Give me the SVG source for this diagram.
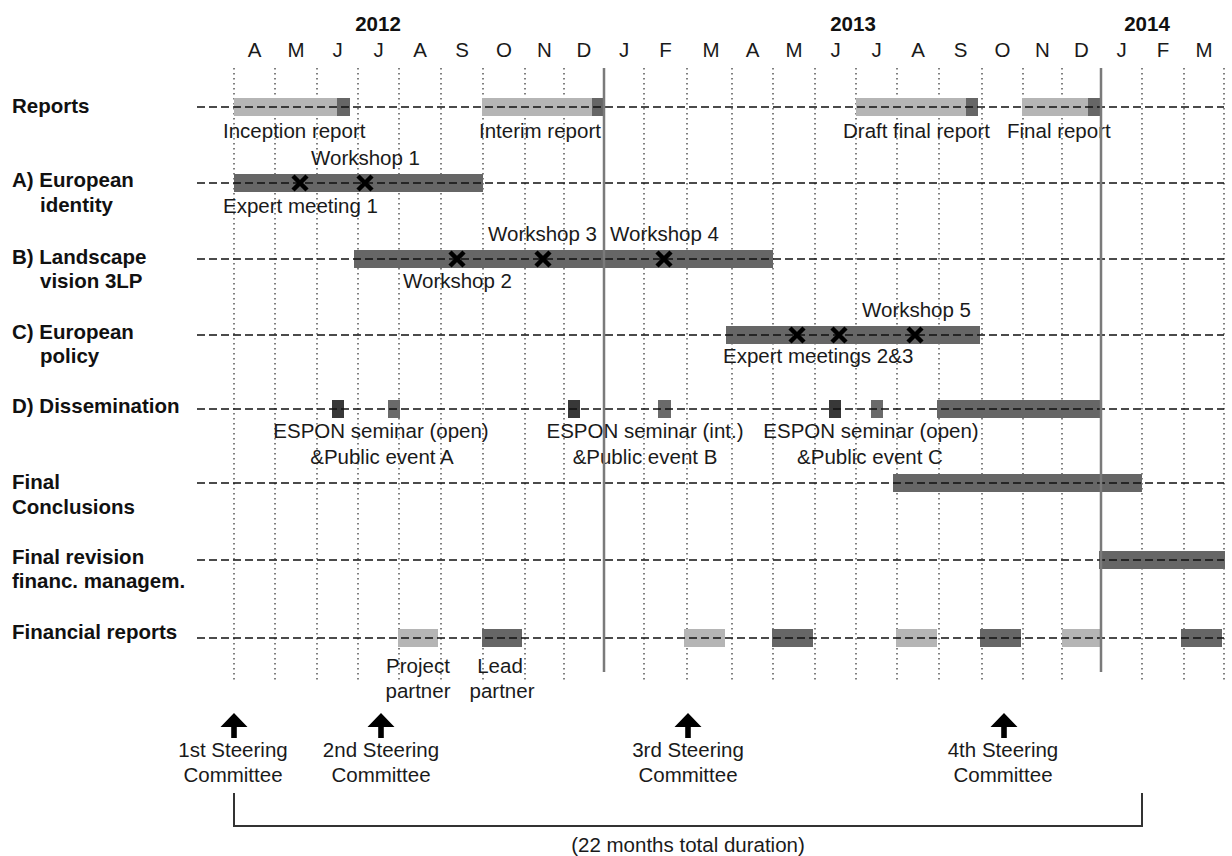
<svg xmlns="http://www.w3.org/2000/svg" width="1232" height="856" viewBox="0 0 1232 856">
<style>
text{font-family:"Liberation Sans",Arial,sans-serif;font-size:20.5px;fill:#1a1a1a}
.b{font-weight:bold;fill:#111}
.c{text-anchor:middle}
.dot{stroke:#555;stroke-width:1.5;stroke-dasharray:1.5 3.5;fill:none}
.sol{stroke:#7a7a7a;stroke-width:2.5;fill:none}
.dash{stroke:#111;stroke-width:1.6;stroke-dasharray:8 4;fill:none}
.lt{fill:#b5b5b5}
.dk{fill:#666}
.vd{fill:#383838}
.md{fill:#6a6a6a}
</style>
<defs>
<path id="xm" d="M-7,-7 L7,7 M7,-7 L-7,7" stroke="#000" stroke-width="4.5" fill="none"/>
<path id="arr" d="M0,0 L13.5,14 L2.8,14 L2.8,25 L-2.8,25 L-2.8,14 L-13.5,14 Z" fill="#000"/>
</defs>
<rect width="1232" height="856" fill="#fff"/>
<g id="timeline-header">
<text class="b c" x="378" y="31">2012</text>
<text class="b c" x="853" y="31">2013</text>
<text class="b c" x="1147" y="31">2014</text>
<g class="c">
<text class="c" x="254.5" y="57">A</text><text class="c" x="296" y="57">M</text><text class="c" x="337.5" y="57">J</text><text class="c" x="378.5" y="57">J</text><text class="c" x="420" y="57">A</text><text class="c" x="462" y="57">S</text><text class="c" x="504" y="57">O</text><text class="c" x="544.5" y="57">N</text><text class="c" x="584" y="57">D</text><text class="c" x="624" y="57">J</text><text class="c" x="665.5" y="57">F</text><text class="c" x="711" y="57">M</text><text class="c" x="752.5" y="57">A</text><text class="c" x="794" y="57">M</text><text class="c" x="835.5" y="57">J</text><text class="c" x="876.5" y="57">J</text><text class="c" x="918" y="57">A</text><text class="c" x="960.5" y="57">S</text><text class="c" x="1002.5" y="57">O</text><text class="c" x="1042.5" y="57">N</text><text class="c" x="1081.5" y="57">D</text><text class="c" x="1121.5" y="57">J</text><text class="c" x="1163" y="57">F</text><text class="c" x="1204" y="57">M</text>
</g>
</g>
<g id="grid">
<path class="dot" d="M234,68V682M275,68V682M317,68V682M358,68V682M399,68V682M441,68V682M483,68V682M525,68V682M564,68V682M644,68V682M687,68V682M732,68V682M773,68V682M815,68V682M856,68V682M897,68V682M939,68V682M982,68V682M1023,68V682M1062,68V682M1142,68V682M1184,68V682M1224,68V682"/>
</g>
<g id="row-reports">
<text class="b" x="12" y="113">Reports</text>
<rect class="lt" x="234" y="98" width="103" height="18"/><rect class="dk" x="337" y="98" width="13" height="18"/>
<rect class="lt" x="482" y="98" width="110" height="18"/><rect class="dk" x="592" y="98" width="12" height="18"/>
<rect class="lt" x="856" y="98" width="110" height="18"/><rect class="dk" x="966" y="98" width="12" height="18"/>
<rect class="lt" x="1022" y="98" width="66" height="18"/><rect class="dk" x="1088" y="98" width="14" height="18"/>
<text x="223" y="138">Inception report</text>
<text x="479" y="138">Interim report</text>
<text x="843" y="138">Draft final report</text>
<text x="1007" y="138">Final report</text>
</g>
<g id="row-a">
<text class="b" x="12" y="187">A) European</text>
<text class="b" x="40" y="212">identity</text>
<rect class="dk" x="234" y="174" width="249" height="18"/>
<text x="311" y="165">Workshop 1</text>
<text x="223" y="213">Expert meeting 1</text>
</g>
<g id="row-b">
<text class="b" x="12" y="264">B) Landscape</text>
<text class="b" x="40" y="288">vision 3LP</text>
<rect class="dk" x="354" y="250" width="419" height="18"/>
<text x="488" y="241">Workshop 3</text>
<text x="610" y="241">Workshop 4</text>
<text x="403" y="288">Workshop 2</text>
</g>
<g id="row-c">
<text class="b" x="12" y="339">C) European</text>
<text class="b" x="40" y="363">policy</text>
<rect class="dk" x="726" y="326" width="254" height="18"/>
<text x="862" y="317">Workshop 5</text>
<text x="723" y="363">Expert meetings 2&amp;3</text>
</g>
<g id="row-d">
<text class="b" x="12" y="413">D) Dissemination</text>
<rect class="vd" x="332" y="400" width="12" height="18"/>
<rect class="md" x="388" y="400" width="12" height="18"/>
<rect class="vd" x="568" y="400" width="12" height="18"/>
<rect class="md" x="658" y="400" width="13" height="18"/>
<rect class="vd" x="829" y="400" width="12" height="18"/>
<rect class="md" x="871" y="400" width="12" height="18"/>
<rect class="dk" x="937" y="400" width="164" height="18"/>
<text class="c" x="381" y="438">ESPON seminar (open)</text>
<text class="c" x="382" y="464">&amp;Public event A</text>
<text class="c" x="645" y="438">ESPON seminar (int.)</text>
<text class="c" x="645" y="464">&amp;Public event B</text>
<text class="c" x="871" y="438">ESPON seminar (open)</text>
<text class="c" x="870" y="464">&amp;Public event C</text>
</g>
<g id="row-final-conclusions">
<text class="b" x="12" y="489">Final</text>
<text class="b" x="12" y="514">Conclusions</text>
<rect class="dk" x="893" y="474" width="249" height="18"/>
</g>
<g id="row-final-revision">
<text class="b" x="12" y="564">Final revision</text>
<text class="b" x="12" y="588">financ. managem.</text>
<rect class="dk" x="1099" y="551" width="126" height="18"/>
</g>
<g id="row-financial">
<text class="b" x="12" y="639">Financial reports</text>
<rect class="lt" x="398" y="629" width="40" height="18"/>
<rect class="dk" x="482" y="629" width="40" height="18"/>
<rect class="lt" x="684" y="629" width="41" height="18"/>
<rect class="dk" x="772" y="629" width="41" height="18"/>
<rect class="lt" x="896" y="629" width="41" height="18"/>
<rect class="dk" x="980" y="629" width="41" height="18"/>
<rect class="lt" x="1062" y="629" width="40" height="18"/>
<rect class="dk" x="1181" y="629" width="41" height="18"/>
<text class="c" x="418" y="673">Project</text>
<text class="c" x="418" y="698">partner</text>
<text class="c" x="500" y="673">Lead</text>
<text class="c" x="502" y="698">partner</text>
</g>
<g id="connectors">
<path class="dash" d="M197,107H1224M197,183H1224M197,259H1224M197,335H1224M197,409H1224M197,483H1224M197,560H1224M197,638H1224"/>
<path class="sol" d="M604,68V672M1101,68V672"/>
<use href="#xm" x="300" y="183"/><use href="#xm" x="365" y="183"/>
<use href="#xm" x="457" y="259"/><use href="#xm" x="543" y="259"/><use href="#xm" x="664" y="259"/>
<use href="#xm" x="797" y="335"/><use href="#xm" x="839" y="335"/><use href="#xm" x="915" y="335"/>
</g>
<g id="steering">
<use href="#arr" x="234" y="713"/>
<use href="#arr" x="381" y="713"/>
<use href="#arr" x="688" y="713"/>
<use href="#arr" x="1004" y="713"/>
<text class="c" x="233" y="757">1st Steering</text><text class="c" x="233" y="782">Committee</text>
<text class="c" x="381" y="757">2nd Steering</text><text class="c" x="381" y="782">Committee</text>
<text class="c" x="688" y="757">3rd Steering</text><text class="c" x="688" y="782">Committee</text>
<text class="c" x="1003" y="757">4th Steering</text><text class="c" x="1003" y="782">Committee</text>
</g>
<g id="duration">
<path d="M234,793V826H1142V793" stroke="#333" stroke-width="2" fill="none"/>
<text class="c" x="688" y="852">(22 months total duration)</text>
</g>
</svg>
